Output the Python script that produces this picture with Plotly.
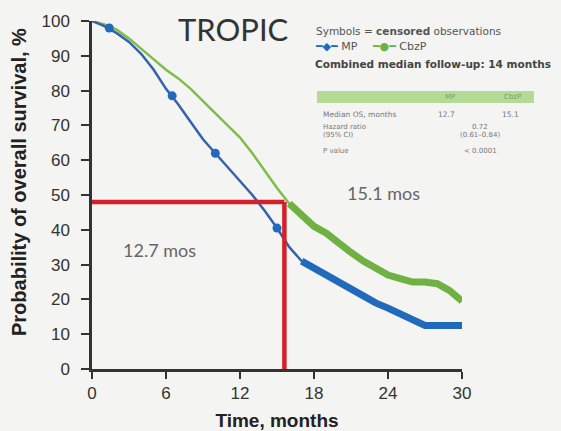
import plotly.graph_objects as go

# ---- data ----
months = list(range(0, 31))
mp_surv = [100, 98.5, 96.5, 94, 90.5, 86, 80.5, 76, 71, 66, 62, 58, 54, 50, 45.5, 40.5,
           35, 31, 29, 26.5, 24.5, 22.5, 20.5, 19, 17.5, 16, 14, 12.5, 12.5, 12.5, 12.5]
cbzp_surv = [100, 99, 97.5, 95, 92, 89, 86, 83.5, 80.5, 77, 73.5, 70, 66.5, 62, 57, 52,
             47.5, 44, 41, 39, 36, 33.5, 31, 29, 27, 26, 25, 25, 24.5, 22.5, 19.5]
mp_censor_t = [1.4, 6.5, 10.0, 15.0]
mp_censor_s = [98, 78.5, 62, 40.5]
mp_dense_from = 17      # month where censoring marks become dense
cbzp_dense_from = 16
median_level = 48       # % survival guide line
median_time = 15.6      # months, guide line

x_ticks = [0, 6, 12, 18, 24, 30]
y_ticks = list(range(0, 101, 10))

BLUE_LINE = "#3563aa"
BLUE_MARK = "#2069bb"
GREEN_LINE = "#7fbd4a"
GREEN_MARK = "#6fb142"
RED = "#d3202a"
BG = "#f4f4f2"

W, H = 561, 431
L, R, T, B = 92, 99, 21, 62
PW, PH = W - L - R, H - T - B


def px(x):
    return (x - L) / PW


def py(y):
    return (H - B - y) / PH


fig = go.Figure()

fig.add_trace(go.Scatter(x=months, y=cbzp_surv, mode="lines",
                         line=dict(color=GREEN_LINE, width=2.5), showlegend=False))
fig.add_trace(go.Scatter(x=months, y=mp_surv, mode="lines",
                         line=dict(color=BLUE_LINE, width=2.5), showlegend=False))

g_late = [(m, s) for m, s in zip(months, cbzp_surv) if m >= cbzp_dense_from]
b_late = [(m, s) for m, s in zip(months, mp_surv) if m >= mp_dense_from]
fig.add_trace(go.Scatter(x=[p[0] for p in g_late], y=[p[1] for p in g_late], mode="lines",
                         line=dict(color=GREEN_MARK, width=7), showlegend=False))
fig.add_trace(go.Scatter(x=[p[0] for p in b_late], y=[p[1] for p in b_late], mode="lines",
                         line=dict(color=BLUE_MARK, width=7), showlegend=False))
fig.add_trace(go.Scatter(x=mp_censor_t, y=mp_censor_s, mode="markers",
                         marker=dict(color=BLUE_MARK, size=9, symbol="circle"),
                         showlegend=False, cliponaxis=False))

shapes = [
    dict(type="line", xref="x", yref="y", x0=0, x1=median_time, y0=median_level, y1=median_level,
         line=dict(color=RED, width=4.5), layer="above"),
    dict(type="line", xref="x", yref="y", x0=median_time, x1=median_time, y0=median_level, y1=0,
         line=dict(color=RED, width=4.5), layer="above"),
    dict(type="rect", xref="paper", yref="paper", x0=px(317), x1=px(534), y0=py(103), y1=py(91),
         fillcolor="#b3db94", line=dict(width=0), layer="below"),
]

ann = []


def text(x, y, s, size, color="#666", xanchor="left", family="DejaVu Sans", angle=0):
    ann.append(dict(x=px(x), y=py(y), xref="paper", yref="paper", text=s, showarrow=False,
                    xanchor=xanchor, yanchor="middle", textangle=angle,
                    font=dict(size=size, color=color, family=family)))


text(176, 29, "TROPIC", 31, "#333", family="Lato")
text(121, 250, "12.7 mos", 18, "#666", family="Lato")
text(345, 193, "15.1 mos", 18, "#666", family="Lato")
text(314, 31, "Symbols = <b>censored</b> observations", 10.5, "#555")
text(313, 47, f'<span style="color:{BLUE_MARK}">━◆━</span> MP', 11, "#555")
text(370, 47, f'<span style="color:{GREEN_MARK}">━●━</span> CbzP', 11, "#555")
text(313, 64, "<b>Combined median follow-up: 14 months</b>", 10.5, "#444")
text(450, 97, "MP", 7, "#7e9a6a", "center")
text(512, 97, "CbzP", 7, "#7e9a6a", "center")
text(321, 114, "Median OS, months", 7.5, "#777")
text(446, 114, "12.7", 7.5, "#777", "center")
text(510, 114, "15.1", 7.5, "#777", "center")
text(321, 127, "Hazard ratio", 7, "#777")
text(321, 135, "(95% CI)", 7, "#777")
text(480, 127, "0.72", 7, "#777", "center")
text(480, 135, "(0.61–0.84)", 7, "#777", "center")
text(321, 151, "P value", 7, "#777")
text(481, 151, "< 0.0001", 7, "#777", "center")
# y-axis title (placed as rotated text to match the reference position)
text(19, 182, "<b>Probability of overall survival, %</b>", 20, "#222", "center",
     family="Liberation Sans", angle=-90)

axis_common = dict(showgrid=False, zeroline=False, showline=True, linecolor="#333", linewidth=2.5,
                   ticks="outside", tickcolor="#333", tickwidth=2, automargin=False,
                   tickfont=dict(size=17, color="#333", family="Liberation Sans"))

fig.update_layout(
    width=W, height=H, autosize=False,
    margin=dict(l=L, r=R, t=T, b=B),
    paper_bgcolor=BG, plot_bgcolor=BG,
    showlegend=False,
    shapes=shapes, annotations=ann,
    xaxis=dict(range=[0, 30], tickvals=x_ticks, ticklen=7,
               title=dict(text="<b>Time, months</b>", standoff=15,
                          font=dict(size=19, color="#222", family="Liberation Sans")),
               **axis_common),
    yaxis=dict(range=[0, 100], tickvals=y_ticks, ticklen=8, ticklabelstandoff=8,
               **axis_common),
)

fig.write_html("out.html", config={"displayModeBar": False},
               post_script="document.body.style.margin='0';document.body.style.overflow='hidden';")
